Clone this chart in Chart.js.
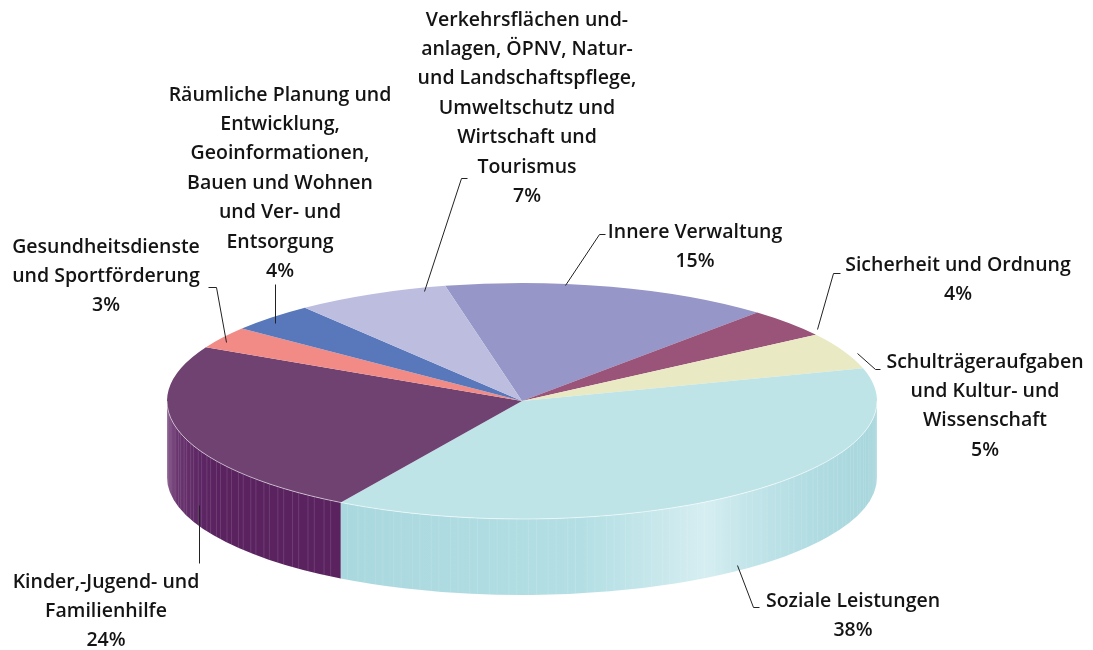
<!DOCTYPE html>
<html><head><meta charset="utf-8">
<script src="https://cdn.jsdelivr.net/npm/chart.js@4/dist/chart.umd.min.js"></script>
<style>html,body{margin:0;padding:0;background:#fff;} #wrap{width:1093px;height:650px;}</style>
</head><body><div id="wrap"><canvas id="c" width="1093" height="650"></canvas></div>
<script>
const categories = [
  'Innere Verwaltung',
  'Sicherheit und Ordnung',
  'Schulträgeraufgaben und Kultur- und Wissenschaft',
  'Soziale Leistungen',
  'Kinder,-Jugend- und Familienhilfe',
  'Gesundheitsdienste und Sportförderung',
  'Räumliche Planung und Entwicklung, Geoinformationen, Bauen und Wohnen und Ver- und Entsorgung',
  'Verkehrsflächen und-anlagen, ÖPNV, Natur- und Landschaftspflege, Umweltschutz und Wirtschaft und Tourismus'
];
const shares = [15, 4, 5, 38, 24, 3, 4, 7];
const percentLabels = ['15%', '4%', '5%', '38%', '24%', '3%', '4%', '7%'];
const labelLines = [
  ['Innere Verwaltung'],
  ['Sicherheit und Ordnung'],
  ['Schulträgeraufgaben', 'und Kultur- und', 'Wissenschaft'],
  ['Soziale Leistungen'],
  ['Kinder,-Jugend- und', 'Familienhilfe'],
  ['Gesundheitsdienste', 'und Sportförderung'],
  ['Räumliche Planung und', 'Entwicklung,', 'Geoinformationen,', 'Bauen und Wohnen', 'und Ver- und', 'Entsorgung'],
  ['Verkehrsflächen und-', 'anlagen, ÖPNV, Natur-', 'und Landschaftspflege,', 'Umweltschutz und', 'Wirtschaft und', 'Tourismus']
];
const topColors = ['#9696c8', '#9a5379', '#e9e9c4', '#bee4e8', '#6f4272', '#f28b86', '#5878bb', '#bdbde0'];

// layout / style (not data)
const geom = { cx: 522, cy: 401, rx: 355, ry: 118, depth: 76 };
const sideGradients = {
  3: [[0, '#a9d8de'], [0.45, '#b3dfe4'], [0.6, '#c9e8ec'], [0.68, '#d6eef1'], [0.75, '#c4e6ea'], [0.88, '#b0dce2'], [1, '#a6d6dc']],
  4: [[0, '#7a4a80'], [0.05, '#6a3670'], [0.2, '#5c2563'], [0.3, '#5a2360'], [1, '#5a2360']]
};
const labelLayout = [
  { x: 695, y: 232, leader: [[605, 234], [599, 234], [565, 285]] },
  { x: 958, y: 265, leader: [[840, 273], [833, 273], [817, 329]] },
  { x: 985, y: 362, leader: [[880, 369], [875, 369], [857, 353]] },
  { x: 853, y: 601, leader: [[759, 607], [753, 607], [737, 565]] },
  { x: 106, y: 582, leader: [[199, 563], [199, 505]] },
  { x: 106, y: 247, leader: [[208, 287], [216, 287], [226, 342]] },
  { x: 280, y: 95, leader: [[275, 284], [275, 323]] },
  { x: 527, y: 20, leader: [[467, 178], [461, 178], [424, 291]] }
];
const FONT = '600 19.5px "Open Sans", sans-serif';
const LINE_H = 29.4;

const TAU = Math.PI * 2;
function visibleRange(s, e) {
  let a = ((s % TAU) + TAU) % TAU;
  let b = a + (e - s);
  const out = [];
  for (const off of [0, TAU, -TAU]) {
    const lo = Math.max(a, off), hi = Math.min(b, off + Math.PI);
    if (hi > lo) out.push([lo - off, hi - off]);
  }
  return out;
}

const pie3d = {
  id: 'pie3d',
  beforeDatasetsDraw(chart) {
    const ctx = chart.ctx;
    const meta = chart.getDatasetMeta(0);
    const { cx, cy, rx, ry, depth } = geom;
    meta.data.forEach((arc, i) => {
      const ranges = visibleRange(arc.startAngle, arc.endAngle);
      ranges.forEach(([a, b]) => {
        ctx.save();
        ctx.beginPath();
        ctx.ellipse(cx, cy, rx, ry, 0, a, b, false);
        ctx.ellipse(cx, cy + depth, rx, ry, 0, b, a, true);
        ctx.closePath();
        const stops = sideGradients[i];
        if (stops) {
          const x1 = cx + rx * Math.cos(b), x0 = cx + rx * Math.cos(a);
          const xmin = Math.min(x0, x1), xmax = Math.max(x0, x1);
          const g2 = ctx.createLinearGradient(xmin, 0, xmax, 0);
          stops.forEach(([t, c]) => g2.addColorStop(t, c));
          ctx.fillStyle = g2;
        } else {
          ctx.fillStyle = topColors[i];
        }
        ctx.fill();
        ctx.clip();
        ctx.globalAlpha = 0.12;
        ctx.strokeStyle = '#ffffff';
        ctx.lineWidth = 1;
        const n = Math.round((b - a) * 90);
        for (let k = 0; k <= n; k++) {
          const t = a + (b - a) * (k / n);
          const x = cx + rx * Math.cos(t), y = cy + ry * Math.sin(t);
          if ((k * 7) % 5 < 2) {
            ctx.beginPath(); ctx.moveTo(x, y); ctx.lineTo(x, y + depth); ctx.stroke();
          }
        }
        ctx.restore();
      });
    });
    const arc0 = meta.data[0];
    ctx.save();
    ctx.translate(cx, cy);
    ctx.scale(rx / arc0.outerRadius, ry / arc0.outerRadius);
    ctx.translate(-arc0.x, -arc0.y);
  },
  afterDatasetsDraw(chart) {
    const ctx = chart.ctx;
    ctx.restore();
    const { cx, cy, rx, ry } = geom;
    ctx.save();
    ctx.beginPath();
    ctx.ellipse(cx, cy, rx, ry, 0, 0, Math.PI, false);
    ctx.strokeStyle = 'rgba(255,255,255,0.55)';
    ctx.lineWidth = 1;
    ctx.stroke();
    ctx.restore();
    ctx.save();
    ctx.font = FONT;
    ctx.fillStyle = '#141414';
    ctx.textAlign = 'center';
    ctx.textBaseline = 'middle';
    ctx.strokeStyle = '#222';
    ctx.lineWidth = 1;
    labelLayout.forEach((L, i) => {
      const lines = labelLines[i].concat([percentLabels[i]]);
      lines.forEach((t, k) => ctx.fillText(t, L.x, L.y + k * LINE_H));
      ctx.beginPath();
      L.leader.forEach(([x, y], k) => k ? ctx.lineTo(x + 0.5, y + 0.5) : ctx.moveTo(x + 0.5, y + 0.5));
      ctx.stroke();
    });
    ctx.restore();
  }
};

new Chart(document.getElementById('c'), {
  type: 'pie',
  data: {
    labels: categories,
    datasets: [{
      data: shares,
      backgroundColor: topColors,
      borderWidth: 0,
      clip: false
    }]
  },
  options: {
    responsive: false,
    animation: false,
    events: [],
    rotation: -12.5,
    plugins: { legend: { display: false }, tooltip: { enabled: false } }
  },
  plugins: [pie3d]
});
</script>
</body></html>
